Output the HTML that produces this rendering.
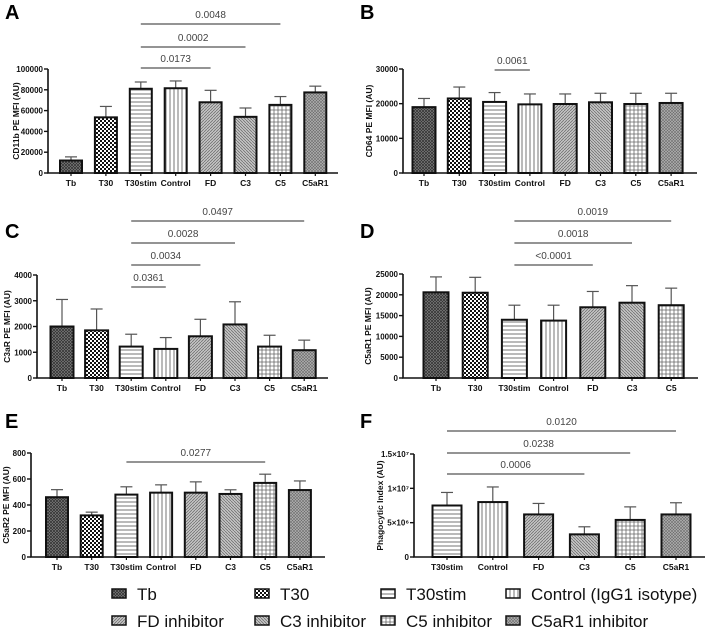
<!DOCTYPE html>
<html><head><meta charset="utf-8"><style>
body{margin:0;background:#fff;}
svg{display:block;font-family:"Liberation Sans",Arial,sans-serif;}
.tk{font-size:8px;font-weight:bold;fill:#111;}
.xl{font-size:8.5px;font-weight:bold;fill:#111;}
.yt{font-size:8.5px;font-weight:bold;fill:#111;}
.pv{font-size:10px;fill:#444;}
.pl{font-size:20px;font-weight:bold;fill:#000;}
.lg{font-size:17px;fill:#111;}
</style></head><body>
<svg id="fig" width="709" height="628" viewBox="0 0 709 628" xmlns="http://www.w3.org/2000/svg">
<defs>
<pattern id="p0" width="3" height="3" patternUnits="userSpaceOnUse"><rect width="3" height="3" fill="#888"/><path d="M0 0L3 3M3 0L0 3" stroke="#333" stroke-width="0.8"/></pattern>
<pattern id="p1" width="4" height="4" patternUnits="userSpaceOnUse"><rect width="4" height="4" fill="#fff"/><rect width="2" height="2" fill="#111"/><rect x="2" y="2" width="2" height="2" fill="#111"/></pattern>
<pattern id="p2" width="4" height="4" patternUnits="userSpaceOnUse"><rect width="4" height="4" fill="#fff"/><path d="M0 2H4" stroke="#666" stroke-width="0.9"/></pattern>
<pattern id="p3" width="4" height="4" patternUnits="userSpaceOnUse"><rect width="4" height="4" fill="#fff"/><path d="M2 0V4" stroke="#666" stroke-width="0.9"/></pattern>
<pattern id="p4" width="3" height="3" patternUnits="userSpaceOnUse"><rect width="3" height="3" fill="#c4c4c4"/><path d="M0 3L3 0" stroke="#666" stroke-width="0.7"/></pattern>
<pattern id="p5" width="3" height="3" patternUnits="userSpaceOnUse"><rect width="3" height="3" fill="#c4c4c4"/><path d="M0 0L3 3" stroke="#666" stroke-width="0.7"/></pattern>
<pattern id="p6" width="4" height="4" patternUnits="userSpaceOnUse"><rect width="4" height="4" fill="#fff"/><path d="M0 2H4M2 0V4" stroke="#666" stroke-width="0.8"/></pattern>
<pattern id="p7" width="3" height="3" patternUnits="userSpaceOnUse"><rect width="3" height="3" fill="#b0b0b0"/><path d="M0 0L3 3M3 0L0 3" stroke="#6a6a6a" stroke-width="0.6"/></pattern>
</defs>
</svg>
<script>
const catsA=["Tb","T30","T30stim","Control","FD","C3","C5","C5aR1"];
const meanA=[12000,53500,81000,81500,68000,54000,65500,77500];
const errA=[15500,64000,87500,88500,79500,62500,73500,83500];
const ticksA=[0,20000,40000,60000,80000,100000];
const tickLabA=["0","20000","40000","60000","80000","100000"];
const brA=[[2,6,"0.0048"],[2,5,"0.0002"],[2,4,"0.0173"]];

const catsB=["Tb","T30","T30stim","Control","FD","C3","C5","C5aR1"];
const meanB=[19000,21500,20500,19800,19900,20400,19900,20200];
const errB=[21500,24800,23200,22800,22800,23000,23000,23000];
const ticksB=[0,10000,20000,30000];
const tickLabB=["0","10000","20000","30000"];
const brB=[[2,3,"0.0061"]];

const catsC=["Tb","T30","T30stim","Control","FD","C3","C5","C5aR1"];
const meanC=[2000,1850,1220,1130,1620,2080,1220,1080];
const errC=[3050,2680,1700,1570,2280,2960,1660,1470];
const ticksC=[0,1000,2000,3000,4000];
const tickLabC=["0","1000","2000","3000","4000"];
const brC=[[2,7,"0.0497"],[2,5,"0.0028"],[2,4,"0.0034"],[2,3,"0.0361"]];

const catsD=["Tb","T30","T30stim","Control","FD","C3","C5"];
const meanD=[20600,20500,14000,13800,17000,18100,17500];
const errD=[24300,24200,17500,17500,20800,22200,21600];
const ticksD=[0,5000,10000,15000,20000,25000];
const tickLabD=["0","5000","10000","15000","20000","25000"];
const brD=[[2,6,"0.0019"],[2,5,"0.0018"],[2,4,"<0.0001"]];

const catsE=["Tb","T30","T30stim","Control","FD","C3","C5","C5aR1"];
const meanE=[460,320,480,495,495,485,570,515];
const errE=[518,345,540,555,578,517,637,585];
const ticksE=[0,200,400,600,800];
const tickLabE=["0","200","400","600","800"];
const brE=[[2,6,"0.0277"]];

const catsF=["T30stim","Control","FD","C3","C5","C5aR1"];
const meanF=[7500000,8000000,6200000,3300000,5400000,6200000];
const errF=[9400000,10200000,7800000,4400000,7300000,7900000];
const ticksF=[0,5000000,10000000,15000000];
const tickLabF=["0","5×10⁶","1×10⁷","1.5×10⁷"];
const brF=[[0,3,"0.0006"],[0,4,"0.0238"],[0,5,"0.0120"]];

const NS="http://www.w3.org/2000/svg";
const svg=document.getElementById("fig");
function mk(tag,attrs,parent){const e=document.createElementNS(NS,tag);for(const k in attrs)e.setAttribute(k,attrs[k]);(parent||svg).appendChild(e);return e;}

function panel(cfg,cats,mean,err,ticks,tickLab,br){
  const g=mk("g",{});
  
  
  const ys=v=>cfg.y0-(v/cfg.max)*(cfg.y0-cfg.yTop);
  const xs=i=>cfg.x0+i*cfg.dx;
  const pl=mk("text",{x:cfg.lx,y:cfg.ly,class:"pl"},g);pl.textContent=cfg.id;
  
  
  cats.forEach((c,i)=>{
    const pi=cfg.pat[i];
    const x=xs(i),w=cfg.bw;
    const ey=ys(err[i]);
    const el=mk("line",{x1:x,x2:x,y1:ys(mean[i]),y2:ey,stroke:"#555","stroke-width":1.2},g);
    
    
    mk("line",{x1:x-6,x2:x+6,y1:ey,y2:ey,stroke:"#555","stroke-width":1.2},g);
    const r=mk("rect",{x:x-w/2,y:ys(mean[i]),width:w,height:cfg.y0-ys(mean[i]),fill:"url(#p"+pi+")",stroke:"#111","stroke-width":2},g);
    
    
    const t=mk("text",{x:x,y:cfg.y0+13,class:"xl","text-anchor":"middle"},g);t.textContent=c;
    
    
    mk("line",{x1:x,x2:x,y1:cfg.y0,y2:cfg.y0+3,stroke:"#111","stroke-width":1.2},g);
  });
  const ax=mk("path",{d:`M${cfg.ax},${cfg.yTop}V${cfg.y0}H${cfg.axEnd}`,fill:"none",stroke:"#111","stroke-width":1.6},g);
  
  
  ticks.forEach((v,i)=>{
    const y=ys(v);
    mk("line",{x1:cfg.ax-4,x2:cfg.ax,y1:y,y2:y,stroke:"#111","stroke-width":1.4},g);
    const t=mk("text",{x:cfg.ax-5,y:y+3,class:"tk","text-anchor":"end"},g);t.textContent=tickLab[i];
    
    
  });
  const yc=(cfg.yTop+cfg.y0)/2;
  const yt=mk("text",{x:cfg.ytx,y:yc,class:"yt","text-anchor":"middle",transform:`rotate(-90 ${cfg.ytx} ${yc})`},g);
  yt.textContent=cfg.title;
  
  
  br.forEach((b,k)=>{
    const y=cfg.brY[k];
    const l=mk("line",{x1:xs(b[0]),x2:xs(b[1]),y1:y,y2:y,stroke:"#555","stroke-width":1.3},g);
    
    
    const t=mk("text",{x:(xs(b[0])+xs(b[1]))/2,y:y-6,class:"pv","text-anchor":"middle"},g);t.textContent=b[2];
    
    
  });
}
const P8=[0,1,2,3,4,5,6,7];
panel({id:"A",lx:5,ly:19,x0:71,dx:34.9,bw:22,ax:48,axEnd:338,yTop:69,y0:173,max:100000,ytx:19,title:"CD11b PE MFI (AU)",pat:P8,brY:[24,47,68]},catsA,meanA,errA,ticksA,tickLabA,brA);
panel({id:"B",lx:360,ly:19,x0:424,dx:35.3,bw:23,ax:403,axEnd:697,yTop:69,y0:173,max:30000,ytx:372,title:"CD64 PE MFI (AU)",pat:P8,brY:[70]},catsB,meanB,errB,ticksB,tickLabB,brB);
panel({id:"C",lx:5,ly:238,x0:62,dx:34.6,bw:23,ax:37,axEnd:328,yTop:275,y0:378,max:4000,ytx:10,title:"C3aR PE MFI (AU)",pat:P8,brY:[221,243,265,287]},catsC,meanC,errC,ticksC,tickLabC,brC);
panel({id:"D",lx:360,ly:238,x0:436,dx:39.2,bw:25,ax:403,axEnd:698,yTop:274,y0:378,max:25000,ytx:371,title:"C5aR1 PE MFI (AU)",pat:[0,1,2,3,4,5,6],brY:[221,243,265]},catsD,meanD,errD,ticksD,tickLabD,brD);
panel({id:"E",lx:5,ly:428,x0:57,dx:34.7,bw:22,ax:31,axEnd:325,yTop:453,y0:557,max:800,ytx:9,title:"C5aR2 PE MFI (AU)",pat:P8,brY:[462]},catsE,meanE,errE,ticksE,tickLabE,brE);
panel({id:"F",lx:360,ly:428,x0:447,dx:45.8,bw:29,ax:414,axEnd:705,yTop:454,y0:557,max:15000000,ytx:383,title:"Phagocytic Index (AU)",pat:[2,3,4,5,6,7],brY:[474,453,431]},catsF,meanF,errF,ticksF,tickLabF,brF);

const legNames=["Tb","T30","T30stim","Control (IgG1 isotype)","FD inhibitor","C3 inhibitor","C5 inhibitor","C5aR1 inhibitor"];
const legX=[112,255,381,506];
legNames.forEach((n,i)=>{
  const x=legX[i%4],y=i<4?594:621;
  const r=mk("rect",{x:x,y:y-5,width:14,height:9,fill:"url(#p"+i+")",stroke:"#111","stroke-width":1.5});
  
  
  const t=mk("text",{x:x+25,y:y+6,class:"lg"});t.textContent=n;
  
  
});
</script>
</body></html>
